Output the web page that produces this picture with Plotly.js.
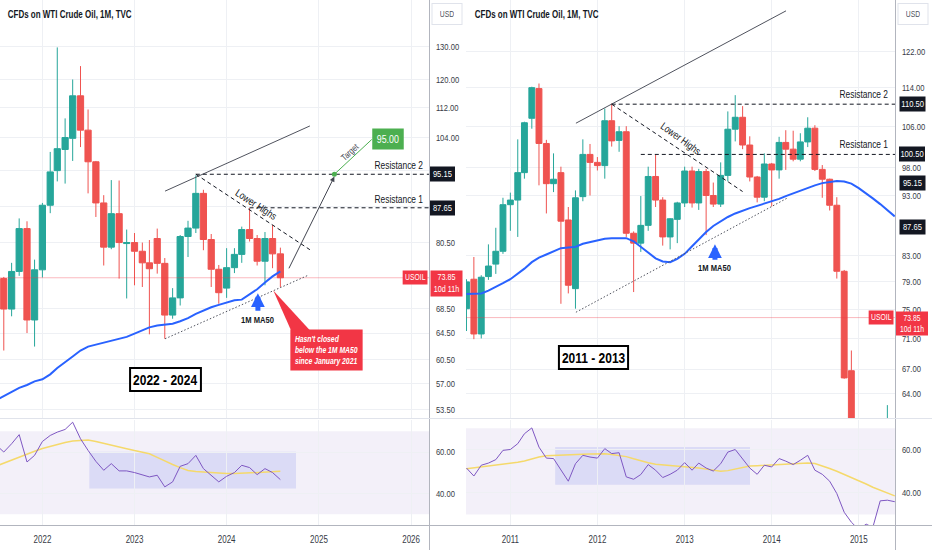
<!DOCTYPE html>
<html><head><meta charset="utf-8">
<script src="https://cdn.plot.ly/plotly-3.0.1.min.js"></script>
<style>html,body{margin:0;padding:0;background:#fff}#chart{width:932px;height:550px}</style>
</head><body><div id="chart"></div>
<script>
// ---------- helpers (dates only) ----------
function months(y, m, n) {
  var out = [];
  for (var i = 0; i < n; i++) {
    var yy = y + Math.floor((m - 1 + i) / 12), mm = ((m - 1 + i) % 12) + 1;
    out.push(yy + '-' + (mm < 10 ? '0' : '') + mm + '-01');
  }
  return out;
}

// ---------- LEFT PANEL DATA (2021-07 .. 2024-08) ----------
var leftDates = months(2021, 7, 38);
var leftOpen  = [73.5,73.7,68.4,75.0,83.3,66.6, 75.3,88.2,96.0,101.1,103.9,115.3,106.0,98.1,88.7,79.6,86.4,80.3, 80.5,78.8,76.6,81.3,76.5,67.4,70.3,81.7,83.4,90.8,81.1,75.4, 72.0,75.7,78.2,83.1,81.3,76.9,81.3,78.3];
var leftHigh  = [77.0,74.0,76.6,85.4,84.8,77.2, 88.7,100.5,129.8,109.1,120.0,124.0,111.5,98.3,90.4,93.8,93.7,83.1, 82.4,80.5,81.0,83.3,77.5,72.0,82.0,84.9,94.9,91.6,82.2,76.2, 79.4,79.4,83.7,87.6,82.0,82.6,84.0,79.5];
var leftLow   = [65.0,61.8,67.2,74.2,64.5,62.4, 73.9,86.5,93.5,93.0,98.3,101.7,90.8,85.7,76.1,79.2,73.7,70.2, 72.5,72.2,64.3,74.6,63.6,66.8,69.0,77.7,82.4,79.0,72.2,69.3, 70.3,74.7,76.6,80.7,76.1,72.5,75.6,72.2];
var leftClose = [73.9,68.4,75.0,83.3,66.6,75.3, 88.2,95.7,101.3,104.1,115.3,106.0,98.1,88.7,79.6,86.4,80.5,80.5, 78.8,76.6,75.5,76.5,67.4,70.3,81.7,83.4,90.8,81.1,75.4,71.2, 75.7,78.2,83.1,81.3,76.9,81.3,78.3,73.85];
var leftMA50  = [54.7,55.3,55.9,56.4,56.8,57.3, 57.6,58.3,59.2,60.0,60.9,61.8,62.4,62.7,63.0,63.3,63.5,63.9, 64.4,64.9,65.4,65.7,65.9,66.0,66.4,66.9,67.6,68.2,68.7,69.1, 69.5,69.9,70.0,70.9,71.8,73.0,74.1,75.0];
var leftRSI   = [63.5,60.0,64.0,68.4,55.2,58.4, 65.1,68.0,69.6,70.9,74.4,66.4,60.8,55.5,51.2,54.4,50.9,50.9, 50.1,48.8,48.0,48.8,43.2,45.6,53.1,54.4,58.4,52.0,48.8,45.6, 48.3,50.1,53.6,52.5,49.1,52.0,50.1,46.7];
var leftRSIma = [53.2,54.7,56.3,57.8,59.1,60.4, 61.7,62.7,63.7,64.6,65.3,65.7,65.8,65.1,64.3,63.4,62.5,61.6, 60.7,60.0,59.2,57.4,55.6,54.0,52.5,51.1,50.6,50.3,50.0,49.8, 49.7,49.6,49.8,50.0,50.2,50.3,50.5,50.7];
var leftPriceTicks = [53.5,57,60.5,64.5,68.5,80.5,88,96,104,112,120,130];
var leftHiddenTicks = [88,96];            // covered by the 87.65 / 95.15 labels
var leftYearTicks  = ['2022-01-01','2023-01-01','2024-01-01','2025-01-01','2026-01-01'];
var leftYearText   = ['2022','2023','2024','2025','2026'];

// ---------- RIGHT PANEL DATA (2010-07 .. 2015-06) ----------
var rightDates = months(2010, 7, 60);
var rightOpen  = [75.1,79.4,71.6,79.8,81.7,83.7,
  91.4,92.2,97.1,107.6,113.8,102.6,95.1,97.1,88.8,78.0,92.8,100.5,
  99.0,98.4,107.1,103.2,104.9,86.6,85.0,87.9,96.4,92.2,86.0,88.9,
  91.7,97.4,91.7,97.3,93.0,91.5,96.6,105.4,107.8,102.3,96.3,92.7,
  98.7,97.6,102.8,101.5,99.6,102.9,105.6,97.7,95.9,91.3,80.6,66.8,
  53.3,48.2,49.8,47.6,59.6];
var rightHigh  = [79.4,82.8,80.0,84.8,87.5,92.6,
  93.5,103.4,106.9,114.2,114.9,103.3,100.7,98.2,91.0,93.9,103.4,102.5,
  100.0,109.6,110.6,106.0,106.0,86.9,92.9,98.2,100.4,92.7,89.1,91.9,
  98.2,98.2,97.8,97.8,95.3,99.0,109.0,112.4,110.1,104.0,96.5,100.7,
  98.9,103.9,105.2,105.1,104.6,107.8,106.2,98.5,96.0,92.7,80.8,69.4,
  53.5,54.2,52.5,59.9,62.6];
var rightLow   = [72.0,70.9,71.0,79.3,80.2,83.3,
  87.0,86.0,96.0,105.5,94.8,89.9,93.6,75.8,77.3,75.1,92.0,93.0,
  97.5,96.0,102.0,101.0,86.0,77.5,83.6,87.0,91.0,84.6,84.0,85.0,
  91.0,90.9,90.5,86.3,91.0,91.0,95.5,103.0,101.5,95.5,91.8,92.0,
  91.1,96.0,97.6,99.2,99.2,101.9,97.4,92.6,90.4,79.5,65.8,52.5,
  43.6,43.9,42.0,47.0,57.0];
var rightClose = [79.0,71.6,79.7,81.4,83.7,91.4,
  92.2,97.1,106.7,114.0,102.6,95.1,95.9,88.6,78.5,92.6,100.5,99.0,
  98.4,107.1,103.1,104.9,86.6,85.0,87.9,96.4,92.2,86.0,89.0,91.7,
  97.4,91.7,97.3,93.0,91.5,96.6,105.4,107.8,102.3,96.3,92.7,98.7,
  97.6,102.8,101.5,99.6,102.9,105.6,97.7,95.9,91.3,80.6,65.9,53.3,
  48.2,49.8,47.6,59.6,60.3];
var rightMA50  = [77.2,77.3,77.3,77.7,78.2,78.8,
  79.4,80.2,81.0,82.0,82.7,83.2,83.7,84.2,84.3,84.4,84.9,85.2,
  85.4,85.7,85.8,85.8,85.8,85.3,84.4,83.5,82.6,82.1,82.0,82.5,
  83.3,84.5,85.6,86.8,87.8,88.6,89.3,89.9,90.4,90.8,91.2,91.6,
  91.9,92.4,92.9,93.4,93.9,94.4,94.8,95.2,95.4,95.6,95.5,95.1,
  94.3,93.4,92.5,91.5,90.4,89.4];
var rightRSI   = [51.5,47.8,52.8,53.8,55.4,59.7,
  60.1,62.8,67.4,70.1,61.2,56.1,55.9,50.5,45.4,53.5,57.4,56.6,
  56.1,60.5,58.2,58.6,47.4,46.3,48.5,53.1,50.5,47.1,48.6,50.5,
  54.0,50.5,53.8,51.5,50.1,53.5,58.9,60.1,55.9,51.5,48.6,52.8,
  52.0,55.9,54.7,53.1,55.1,57.4,50.5,48.6,45.4,39.7,31.0,26.4,
  23.0,25.5,24.0,36.3,36.6,35.9];
var rightRSIma = [51.2,51.6,52.0,52.4,52.8,53.1,
  53.6,54.2,54.8,55.8,56.6,57.2,57.4,57.5,57.6,57.8,57.9,58.0,
  58.2,58.1,57.8,57.4,56.8,55.8,54.8,54.0,53.3,53.0,52.8,52.6,
  52.4,52.0,51.5,51.0,50.5,50.0,50.3,51.0,51.8,52.4,52.6,52.8,
  53.0,53.1,53.3,53.5,53.7,53.8,53.6,52.6,51.3,50.0,48.6,47.2,
  45.6,44.1,42.6,41.2,39.9,38.6];
var rightPriceTicks = [64,67,71,75,79,83,93,98,106,114,122];
var rightYearTicks  = ['2011-01-01','2012-01-01','2013-01-01','2014-01-01','2015-01-01'];
var rightYearText   = ['2011','2012','2013','2014','2015'];

var lastPrice = 73.85;
var resLeft  = [95.15, 87.65];
var resRight = [110.50, 100.50];

// ---------- styling ----------
var G = '#26a69a', R = '#ef5350', BLUE = '#2962ff', RED = '#f23645';
var F = '"Liberation Sans",Arial,sans-serif';
var TXT = '#131722', GRID = '#eef0f4';
var SQ = 0.8;            // horizontal text compression (reference text is condensed)
var L = Math.log10;
var W = 932, H = 550;
function px(x) { return x / W; }
function py(y) { return 1 - y / H; }
function fmt(v) { return v.toFixed(2); }

function candles(x, o, h, l, c, xa, ya) {
  return {type:'candlestick', x:x, open:o, high:h, low:l, close:c, xaxis:xa, yaxis:ya,
    increasing:{line:{color:G,width:1}, fillcolor:G},
    decreasing:{line:{color:R,width:1}, fillcolor:R},
    whiskerwidth:0, hoverinfo:'skip', showlegend:false};
}
function line(x, y, xa, ya, color, width, dash) {
  return {type:'scatter', mode:'lines', x:x, y:y, xaxis:xa, yaxis:ya,
    line:{color:color, width:width, dash:dash||'solid', shape:'linear'},
    hoverinfo:'skip', showlegend:false};
}
var DASH = '4px,3px', DOT = '1.5px,2px';

var traces = [];
// LEFT
traces.push(line(['2021-07-01','2026-06-01'], [lastPrice,lastPrice], 'x','y','rgba(242,54,69,0.35)',1));
traces.push(candles(leftDates, leftOpen, leftHigh, leftLow, leftClose, 'x','y'));
traces.push(line(leftDates, leftMA50, 'x','y', BLUE, 2));
traces.push(line(['2023-05-02','2024-11-26'], [91.3,107.1], 'x','y','#50535e',1));
traces.push(line(['2023-05-02','2024-11-19'], [63.6,74.3], 'x','y','#50535e',1, DOT));
traces.push(line(['2023-09-01','2026-06-01'], [resLeft[0],resLeft[0]], 'x','y','#131722',1, DASH));
traces.push(line(['2024-04-01','2026-06-01'], [resLeft[1],resLeft[1]], 'x','y','#131722',1, DASH));
traces.push(line(['2023-09-01','2024-11-26'], [95.15,79.1], 'x','y','#131722',1, DASH));
traces.push(line(['2025-03-03','2025-07-29'], [95.15,103.6], 'x','y','#4caf50',1));
traces.push({type:'scatter', mode:'markers', x:['2025-03-03'], y:[95.15], xaxis:'x', yaxis:'y',
  marker:{color:'#4caf50', size:5}, hoverinfo:'skip', showlegend:false});
traces.push({type:'scatter', mode:'lines', x:['2024-07-04','2024-09-16','2024-12-04','2024-07-04'],
  y:[71.6,64.6,64.6,71.6], xaxis:'x', yaxis:'y', fill:'toself', fillcolor:RED,
  line:{width:0,color:RED}, hoverinfo:'skip', showlegend:false});
traces.push(line(leftDates, leftRSIma, 'x','y2','#f5d96b',1.5));
traces.push(line(leftDates, leftRSI, 'x','y2','#7e57c2',1));
// RIGHT
traces.push(line(['2010-06-01','2015-07-01'], [lastPrice,lastPrice], 'x2','y3','rgba(242,54,69,0.35)',1));
traces.push(candles(rightDates.slice(0,59), rightOpen, rightHigh, rightLow, rightClose, 'x2','y3'));
traces.push(line(rightDates, rightMA50, 'x2','y3', BLUE, 2));
traces.push(line(['2011-10-03','2014-03-02'], [106.6,131.8], 'x2','y3','#50535e',1));
traces.push(line(['2011-10-03','2014-03-05'], [74.6,92.5], 'x2','y3','#50535e',1, DOT));
traces.push(line(['2012-03-01','2015-07-01'], [resRight[0],resRight[0]], 'x2','y3','#131722',1, DASH));
traces.push(line(['2012-07-01','2015-07-01'], [resRight[1],resRight[1]], 'x2','y3','#131722',1, DASH));
traces.push(line(['2012-03-01','2013-09-01'], [110.5,93.7], 'x2','y3','#131722',1, DASH));
traces.push(line(rightDates, rightRSIma, 'x2','y4','#f5d96b',1.5));
traces.push(line(rightDates, rightRSI, 'x2','y4','#7e57c2',1));

// ---------- annotations ----------
var ann = [], annMode = [], annBox = [];
function t(o, boxW) {
  o.showarrow = false;
  if (!o.xanchor) o.xanchor = 'center';
  if (!o.yanchor) o.yanchor = 'middle';
  o.font = Object.assign({family:F, size:10, color:TXT}, o.font||{});
  annMode.push(o.xanchor); annBox.push(boxW || 0);
  ann.push(o);
}
function arrow(o) { o.text = ''; o.showarrow = true; annMode.push('none'); annBox.push(0); ann.push(o); }

// titles & USD
t({xref:'paper',yref:'paper',x:px(6),y:py(14),xanchor:'left',text:'<b>CFDs on WTI Crude Oil, 1M, TVC</b>',font:{size:10}});
t({xref:'paper',yref:'paper',x:px(473),y:py(14),xanchor:'left',text:'<b>CFDs on WTI Crude Oil, 1M, TVC</b>',font:{size:10}});
t({xref:'paper',yref:'paper',x:px(446.5),y:py(14),text:'USD',height:14,bordercolor:'#e0e3eb',borderwidth:1,borderpad:3,font:{size:8.5,color:'#50535e'}}, 30);
t({xref:'paper',yref:'paper',x:px(912.5),y:py(14),text:'USD',height:14,bordercolor:'#e0e3eb',borderwidth:1,borderpad:3,font:{size:8.5,color:'#50535e'}}, 30);

// LEFT texts
t({xref:'paper',yref:'y',x:px(425),y:L(97.3),xanchor:'right',text:'Resistance 2',font:{size:10.5}});
t({xref:'paper',yref:'y',x:px(425),y:L(89.5),xanchor:'right',text:'Resistance 1',font:{size:10.5}});
t({xref:'x',yref:'y',x:'2024-04-26',y:L(88.4),text:'Lower Highs',textangle:33,font:{size:10.5}});
t({xref:'x',yref:'y',x:'2025-05-04',y:L(100.5),text:'Target',textangle:-43,font:{size:9,color:'#434651'}});
t({xref:'x',yref:'y',x:'2025-10-01',y:L(103.7),text:'95.00',bgcolor:'#4caf50',borderpad:4,font:{size:11,color:'#fff'}});
arrow({xref:'x',yref:'y',x:'2025-03-03',y:L(94.6),axref:'x',ayref:'y',ax:'2024-09-01',ay:L(75.3),
  arrowhead:2,arrowsize:1,arrowwidth:1,arrowcolor:'#434651'});
arrow({xref:'x',yref:'y',x:'2024-05-04',y:L(71.1),ax:0,ay:19,arrowhead:2,arrowsize:0.55,arrowwidth:5,arrowcolor:BLUE});
t({xref:'x',yref:'y',x:'2024-05-04',y:L(66.7),text:'<b>1M MA50</b>',font:{size:9.5}});
t({xref:'x',yref:'y',x:'2025-01-30',y:L(61.9),text:'Hasn\'t closed<br>below the 1M MA50<br>since January 2021',
  align:'left',bgcolor:RED,borderpad:4,font:{size:8.5,color:'#fff',style:'italic',weight:700}});
t({xref:'x',yref:'y',x:'2023-05-05',y:L(57.55),text:'<b>2022 - 2024</b>',bgcolor:'#fff',bordercolor:'#000',borderwidth:2,borderpad:2,font:{size:15,color:'#000'}});
// left axis labels
t({xref:'paper',yref:'y',x:px(442.5),y:L(95.15),text:fmt(95.15),bgcolor:'#131722',borderpad:1.5,font:{size:9.5,color:'#fff'}}, 25);
t({xref:'paper',yref:'y',x:px(442.5),y:L(87.65),text:fmt(87.65),bgcolor:'#131722',borderpad:1.5,font:{size:9.5,color:'#fff'}}, 25);
t({xref:'paper',yref:'y',x:px(446),y:L(lastPrice),yanchor:'top',yshift:8,text:fmt(lastPrice)+'<br>10d 11h',bgcolor:RED,borderpad:1.5,font:{size:9,color:'#fff'}}, 32);
t({xref:'paper',yref:'y',x:px(428),y:L(lastPrice),xanchor:'right',text:'USOIL',bgcolor:RED,borderpad:1.5,font:{size:8.5,color:'#fff'}});

// RIGHT texts
t({xref:'paper',yref:'y3',x:px(890),y:L(112.6),xanchor:'right',text:'Resistance 2',font:{size:10.5}});
t({xref:'paper',yref:'y3',x:px(890),y:L(102.5),xanchor:'right',text:'Resistance 1',font:{size:10.5}});
t({xref:'x2',yref:'y3',x:'2012-12-15',y:L(103.7),text:'Lower Highs',textangle:36,font:{size:10.5}});
arrow({xref:'x2',yref:'y3',x:'2013-05-08',y:L(84.8),ax:0,ay:17,arrowhead:2,arrowsize:0.55,arrowwidth:5,arrowcolor:BLUE});
t({xref:'x2',yref:'y3',x:'2013-05-08',y:L(81.2),text:'<b>1M MA50</b>',font:{size:9.5}});
t({xref:'x2',yref:'y3',x:'2011-12-14',y:L(68.5),text:'<b>2011 - 2013</b>',bgcolor:'#fff',bordercolor:'#000',borderwidth:2,borderpad:2,font:{size:15,color:'#000'}});
[110.50,100.50,95.15,87.65].forEach(function(v){
  t({xref:'paper',yref:'y3',x:px(912),y:L(v),text:fmt(v),bgcolor:'#131722',borderpad:1.5,font:{size:9.5,color:'#fff'}}, 26);
});
t({xref:'paper',yref:'y3',x:px(912),y:L(lastPrice),yanchor:'top',yshift:7,text:fmt(lastPrice)+'<br>10d 11h',bgcolor:RED,borderpad:1,font:{size:8.5,color:'#fff'}}, 32);
t({xref:'paper',yref:'y3',x:px(894),y:L(lastPrice),xanchor:'right',text:'USOIL',bgcolor:RED,borderpad:1.5,font:{size:8.5,color:'#fff'}});

// ---------- shapes ----------
var shapes = [
  {type:'rect',xref:'x domain',yref:'y2',x0:0,x1:1,y0:30,y1:70,fillcolor:'rgba(126,87,194,0.09)',line:{width:0},layer:'below'},
  {type:'rect',xref:'x2 domain',yref:'y4',x0:0,x1:1,y0:30,y1:70,fillcolor:'rgba(126,87,194,0.09)',line:{width:0},layer:'below'},
  {type:'rect',xref:'x',yref:'y2',x0:'2022-07-06',x1:'2024-10-02',y0:42.4,y1:60.1,fillcolor:'rgba(80,90,235,0.14)',line:{width:0},layer:'below'},
  {type:'rect',xref:'x2',yref:'y4',x0:'2011-07-08',x1:'2013-10-02',y0:43.8,y1:61.2,fillcolor:'rgba(80,90,235,0.14)',line:{width:0},layer:'below'},
  {type:'line',xref:'paper',yref:'paper',x0:px(429.5),x1:px(429.5),y0:0,y1:1,line:{color:'#b2b5be',width:1}},
  {type:'line',xref:'paper',yref:'paper',x0:px(895.5),x1:px(895.5),y0:0,y1:1,line:{color:'#b2b5be',width:1}},
  {type:'line',xref:'paper',yref:'paper',x0:0,x1:1,y0:py(418.5),y1:py(418.5),line:{color:'#e0e3eb',width:1}},
  {type:'line',xref:'paper',yref:'paper',x0:0,x1:1,y0:py(525.5),y1:py(525.5),line:{color:'#b2b5be',width:1}}
];

// ---------- axes ----------
function yPrice(dom, range, ticks, hidden, anchor) {
  return {domain:dom, type:'log', range:range, side:'right', anchor:anchor, fixedrange:true,
    tickvals:ticks, ticktext:ticks.map(function(v){ return hidden.indexOf(v) >= 0 ? '' : fmt(v); }),
    ticks:'outside', ticklen:4, tickcolor:'rgba(0,0,0,0)',
    showgrid:true, gridcolor:GRID, zeroline:false, showline:false,
    tickfont:{family:F,size:9.5,color:'#363a45'}};
}
function yRSI(dom, range, anchor) {
  return {domain:dom, range:range, side:'right', anchor:anchor, fixedrange:true,
    tickvals:[40,60], ticktext:['40.00','60.00'], ticks:'outside', ticklen:4, tickcolor:'rgba(0,0,0,0)',
    showgrid:true, gridcolor:GRID, zeroline:false, showline:false,
    tickfont:{family:F,size:9.5,color:'#363a45'}};
}
function xAx(dom, range, tv, tt, anchor) {
  return {domain:dom, type:'date', range:range, anchor:anchor, fixedrange:true,
    tickvals:tv, ticktext:tt, ticks:'outside', ticklen:5, tickcolor:'rgba(0,0,0,0)',
    showgrid:true, gridcolor:GRID, zeroline:false, showline:false,
    rangeslider:{visible:false}, tickfont:{family:F,size:10,color:'#363a45'}};
}
var priceDom = [py(418.5), 1], rsiDom = [py(525), py(419.5)];

var layout = {
  width:W, height:H, margin:{l:0,r:0,t:0,b:0}, paper_bgcolor:'#fff', plot_bgcolor:'#fff',
  showlegend:false, hovermode:false, boxgap:0.12, boxgroupgap:0,
  xaxis: xAx([0, px(429)], ['2021-07-17','2026-03-13'], leftYearTicks, leftYearText, 'y2'),
  yaxis: yPrice(priceDom, [1.7187, 2.1637], leftPriceTicks, leftHiddenTicks, 'x'),
  yaxis2: yRSI(rsiDom, [24.8, 75.7], 'x'),
  xaxis2: xAx([px(466), px(895)], ['2010-06-29','2015-06-02'], rightYearTicks, rightYearText, 'y4'),
  yaxis3: yPrice(priceDom, [1.7856, 2.1288], rightPriceTicks, [], 'x2'),
  yaxis4: yRSI(rsiDom, [25.1, 74.0], 'x2'),
  annotations: ann, shapes: shapes
};

// ---------- condensed text (reference glyphs are horizontally narrow) ----------
function sq(el, cx, s) {
  var tr = el.getAttribute('transform') || '';
  el.setAttribute('transform', tr + ' translate(' + cx + ',0) scale(' + s + ',1) translate(' + (-cx) + ',0)');
}
function squeeze(gd, s) {
  gd.querySelectorAll('text').forEach(function(el) {
    if (el.closest('g.annotation')) return;
    var bb; try { bb = el.getBBox(); } catch (e) { return; }
    if (!bb || !bb.width) return;
    var a = el.getAttribute('text-anchor') || getComputedStyle(el).textAnchor || 'start';
    var cx = a === 'middle' ? bb.x + bb.width / 2 : (a === 'end' ? bb.x + bb.width : bb.x);
    sq(el, cx, s);
  });
  gd.querySelectorAll('g.annotation').forEach(function(g) {
    var idx = +g.getAttribute('data-index');
    var mode = annMode[idx];
    if (!mode || mode === 'none') return;
    var txt = g.querySelector('text.annotation-text'), rect = g.querySelector('rect.bg');
    if (!txt || !rect) return;
    var tb = txt.getBBox(); if (!tb.width) return;
    var rx = +rect.getAttribute('x'), rw = +rect.getAttribute('width');
    var nw = annBox[idx] ? annBox[idx] : rw - (1 - s) * tb.width;
    var ref = mode === 'left' ? rx : (mode === 'right' ? rx + rw : rx + rw / 2);
    sq(txt, ref, s);
    var nx = mode === 'left' ? rx : (mode === 'right' ? rx + rw - nw : rx + rw / 2 - nw / 2);
    rect.setAttribute('x', nx); rect.setAttribute('width', nw);
  });
}

Plotly.newPlot('chart', traces, layout, {staticPlot:true, displayModeBar:false}).then(function(gd) {
  squeeze(gd, SQ);
});
</script></body></html>
